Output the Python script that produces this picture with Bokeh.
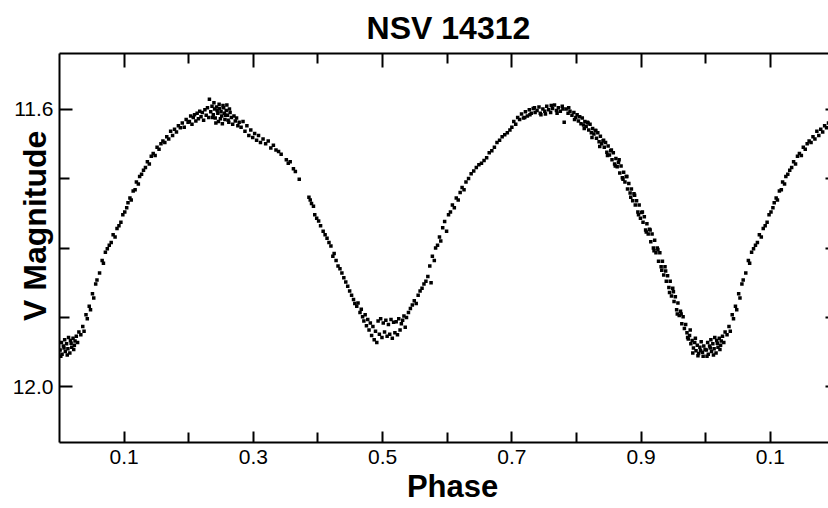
from bokeh.plotting import figure
from bokeh.models import Range1d, FixedTicker, LinearAxis, CustomJSTickFormatter
from bokeh.embed import file_html
from bokeh.resources import INLINE

phase_a = [0.001, 0.003, 0.004, 0.006, 0.008, 0.009, 0.011, 0.013, 0.014, 0.016,
           0.018, 0.019, 0.021, 0.023, 0.024, 0.026, 0.028, 0.030,
           0.002, 0.007, 0.012, 0.017, 0.022]
vmag_a = [11.947, 11.936, 11.953, 11.941, 11.932, 11.949, 11.938, 11.945, 11.929, 11.951,
          11.937, 11.943, 11.930, 11.940, 11.934, 11.927, 11.936, 11.921,
          11.956, 11.944, 11.954, 11.933, 11.946]

phase_b = [0.033, 0.036, 0.038, 0.041, 0.043, 0.046, 0.048, 0.051, 0.053, 0.056,
           0.058, 0.062, 0.066, 0.068, 0.071, 0.074, 0.077, 0.080, 0.083, 0.086,
           0.089, 0.092, 0.095, 0.098]
vmag_b = [11.925, 11.913, 11.920, 11.896, 11.902, 11.884, 11.889, 11.866, 11.872, 11.852,
          11.846, 11.836, 11.818, 11.822, 11.806, 11.801, 11.796, 11.792, 11.781, 11.784,
          11.772, 11.768, 11.763, 11.752]

phase_c = [0.101, 0.104, 0.106, 0.109, 0.111, 0.114, 0.117, 0.119, 0.122, 0.124,
           0.127, 0.130, 0.133, 0.136, 0.139, 0.142, 0.145, 0.148, 0.151, 0.154,
           0.157, 0.160, 0.163, 0.166, 0.169, 0.172, 0.175, 0.178, 0.181, 0.184,
           0.187, 0.190, 0.193, 0.196, 0.199]
vmag_c = [11.748, 11.742, 11.735, 11.728, 11.731, 11.718, 11.716, 11.705, 11.708, 11.697,
          11.694, 11.688, 11.684, 11.676, 11.679, 11.668, 11.664, 11.667, 11.655, 11.658,
          11.650, 11.646, 11.648, 11.640, 11.643, 11.632, 11.638, 11.629, 11.633, 11.624,
          11.627, 11.620, 11.626, 11.615, 11.619]

phase_d = [0.201, 0.203, 0.205, 0.207, 0.209, 0.211, 0.213, 0.215, 0.217, 0.219,
           0.221, 0.223, 0.225, 0.227, 0.229, 0.231, 0.232, 0.234, 0.236, 0.238,
           0.240, 0.241, 0.243, 0.245, 0.246, 0.248, 0.250, 0.251, 0.253, 0.255,
           0.256, 0.258, 0.260, 0.262, 0.264, 0.266, 0.268, 0.270, 0.272, 0.274,
           0.276, 0.278,
           0.237, 0.239, 0.242, 0.244, 0.247, 0.249, 0.252, 0.254, 0.257, 0.259,
           0.261, 0.263]
vmag_d = [11.618, 11.610, 11.622, 11.612, 11.608, 11.617, 11.606, 11.614, 11.603, 11.611,
          11.605, 11.616, 11.601, 11.609, 11.598, 11.612, 11.586, 11.604, 11.596, 11.608,
          11.600, 11.613, 11.597, 11.606, 11.618, 11.599, 11.604, 11.610, 11.595, 11.606,
          11.615, 11.602, 11.609, 11.619, 11.605, 11.612, 11.622, 11.610, 11.617, 11.613,
          11.624, 11.619,
          11.612, 11.591, 11.620, 11.602, 11.593, 11.614, 11.621, 11.598, 11.609, 11.594,
          11.616, 11.600]

phase_e = [0.281, 0.284, 0.287, 0.290, 0.293, 0.296, 0.299, 0.302, 0.305, 0.308,
           0.311, 0.315, 0.319, 0.323, 0.327, 0.331, 0.335, 0.339, 0.343]
vmag_e = [11.626, 11.618, 11.632, 11.624, 11.638, 11.630, 11.641, 11.635, 11.645, 11.638,
          11.648, 11.643, 11.650, 11.646, 11.656, 11.652, 11.659, 11.661, 11.665]

phase_f = [0.351, 0.354, 0.357, 0.362, 0.365, 0.371, 0.386, 0.388, 0.390, 0.393,
           0.395, 0.398, 0.401, 0.404, 0.408, 0.411, 0.414, 0.417, 0.420, 0.423,
           0.425, 0.428, 0.431, 0.434, 0.437, 0.440, 0.443, 0.446, 0.449]
vmag_f = [11.673, 11.678, 11.676, 11.686, 11.690, 11.701, 11.727, 11.731, 11.736, 11.740,
          11.752, 11.757, 11.761, 11.768, 11.776, 11.781, 11.786, 11.792, 11.797, 11.812,
          11.808, 11.818, 11.826, 11.830, 11.836, 11.843, 11.849, 11.855, 11.862]

phase_g = [0.452, 0.455, 0.457, 0.460, 0.462, 0.465, 0.467, 0.469, 0.471, 0.473,
           0.475, 0.477, 0.479, 0.481, 0.483, 0.485, 0.487, 0.489, 0.491, 0.493,
           0.495, 0.497, 0.499, 0.501, 0.503, 0.505, 0.507, 0.509, 0.511, 0.513,
           0.515, 0.517, 0.519, 0.521, 0.523, 0.525, 0.527, 0.529, 0.531, 0.533,
           0.535, 0.537, 0.540, 0.543, 0.546, 0.549, 0.552, 0.555, 0.558]
vmag_g = [11.868, 11.874, 11.880, 11.884, 11.879, 11.893, 11.888, 11.899, 11.905, 11.896,
          11.912, 11.903, 11.918, 11.908, 11.926, 11.913, 11.932, 11.920, 11.936, 11.905,
          11.924, 11.902, 11.929, 11.908, 11.921, 11.904, 11.927, 11.910, 11.924, 11.903,
          11.930, 11.907, 11.922, 11.906, 11.925, 11.902, 11.918, 11.909, 11.904, 11.898,
          11.914, 11.900, 11.893, 11.887, 11.882, 11.876, 11.880, 11.868, 11.862]

phase_h = [0.561, 0.564, 0.567, 0.570, 0.573, 0.575, 0.577, 0.580, 0.582, 0.585,
           0.588, 0.590, 0.593, 0.596, 0.599, 0.602, 0.605, 0.608, 0.611, 0.614,
           0.617, 0.620, 0.623, 0.626, 0.629, 0.633, 0.637, 0.641, 0.645, 0.649,
           0.653, 0.657, 0.661, 0.665, 0.669, 0.673, 0.677, 0.681, 0.685, 0.689,
           0.693, 0.697]
vmag_h = [11.858, 11.852, 11.848, 11.841, 11.826, 11.850, 11.812, 11.818, 11.800, 11.796,
          11.784, 11.790, 11.771, 11.762, 11.776, 11.752, 11.748, 11.738, 11.742, 11.728,
          11.731, 11.720, 11.713, 11.716, 11.705, 11.700, 11.693, 11.689, 11.684, 11.680,
          11.678, 11.674, 11.670, 11.663, 11.660, 11.655, 11.648, 11.645, 11.640, 11.637,
          11.634, 11.630]

phase_i = [0.700, 0.703, 0.706, 0.709, 0.712, 0.715, 0.718, 0.721, 0.724, 0.727,
           0.730, 0.733, 0.736, 0.739, 0.742, 0.745, 0.748, 0.751, 0.754, 0.757,
           0.760, 0.763, 0.766, 0.769, 0.772, 0.775, 0.778, 0.781, 0.784, 0.787,
           0.790, 0.793, 0.796, 0.799,
           0.720, 0.728, 0.735, 0.744, 0.752, 0.761, 0.770, 0.779, 0.788, 0.797]
vmag_i = [11.626, 11.618, 11.622, 11.612, 11.615, 11.607, 11.613, 11.604, 11.610, 11.601,
          11.606, 11.599, 11.605, 11.602, 11.597, 11.608, 11.600, 11.603, 11.596, 11.601,
          11.605, 11.599, 11.594, 11.602, 11.598, 11.603, 11.596, 11.619, 11.600, 11.606,
          11.603, 11.609, 11.605, 11.612,
          11.612, 11.608, 11.598, 11.606, 11.607, 11.595, 11.606, 11.600, 11.598, 11.615]

phase_j = [0.801, 0.803, 0.805, 0.807, 0.809, 0.811, 0.813, 0.815, 0.817, 0.819,
           0.821, 0.823, 0.825, 0.827, 0.829, 0.831, 0.833, 0.835, 0.837, 0.839,
           0.841, 0.843, 0.845, 0.847, 0.849, 0.851, 0.853, 0.855, 0.857, 0.859,
           0.861, 0.863, 0.865, 0.867, 0.869, 0.871, 0.873, 0.875, 0.877, 0.879,
           0.881, 0.883, 0.885, 0.887, 0.889, 0.891, 0.893, 0.895, 0.897, 0.899,
           0.901, 0.903, 0.905, 0.907, 0.909, 0.911, 0.913, 0.915, 0.917, 0.919,
           0.921, 0.923, 0.925, 0.927, 0.929, 0.931, 0.933, 0.935, 0.937, 0.939,
           0.941, 0.943, 0.945, 0.947, 0.949, 0.951, 0.953, 0.955, 0.957, 0.959,
           0.961, 0.963, 0.965, 0.967, 0.969,
           0.812, 0.818, 0.824, 0.830, 0.836, 0.842, 0.848, 0.854, 0.860, 0.866,
           0.872, 0.878, 0.884, 0.890, 0.896, 0.902, 0.908, 0.914, 0.920, 0.926,
           0.932, 0.938, 0.944, 0.950, 0.956, 0.962]
vmag_j = [11.608, 11.617, 11.611, 11.621, 11.613, 11.623, 11.618, 11.625, 11.619, 11.630,
          11.622, 11.634, 11.628, 11.636, 11.631, 11.642, 11.634, 11.647, 11.639, 11.650,
          11.646, 11.655, 11.648, 11.662, 11.653, 11.666, 11.660, 11.673, 11.663, 11.679,
          11.671, 11.683, 11.677, 11.692, 11.682, 11.699, 11.691, 11.705, 11.697, 11.715,
          11.707, 11.721, 11.715, 11.732, 11.722, 11.738, 11.732, 11.748, 11.738, 11.757,
          11.749, 11.763, 11.755, 11.774, 11.765, 11.780, 11.773, 11.791, 11.780, 11.800,
          11.789, 11.807, 11.800, 11.819, 11.807, 11.827, 11.819, 11.839, 11.827, 11.848,
          11.840, 11.857, 11.848, 11.869, 11.858, 11.877, 11.870, 11.889, 11.879, 11.897,
          11.891, 11.909, 11.899, 11.916, 11.910,
          11.628, 11.620, 11.641, 11.631, 11.654, 11.645, 11.667, 11.659, 11.682, 11.673,
          11.701, 11.697, 11.727, 11.724, 11.752, 11.748, 11.777, 11.774, 11.804, 11.802,
          11.832, 11.833, 11.864, 11.863, 11.895, 11.895]

phase_k = [0.971, 0.973, 0.975, 0.977, 0.979, 0.981, 0.983, 0.985, 0.987, 0.989,
           0.991, 0.993, 0.995, 0.997, 0.999,
           0.972, 0.976, 0.980, 0.984, 0.988, 0.992, 0.996]
vmag_k = [11.922, 11.931, 11.926, 11.938, 11.933, 11.944, 11.936, 11.948, 11.940, 11.952,
          11.943, 11.935, 11.950, 11.941, 11.946,
          11.929, 11.918, 11.951, 11.930, 11.955, 11.948, 11.956]

x_major_ticks = [0.1, 0.3, 0.5, 0.7, 0.9, 1.1]
x_minor_ticks = [0.2, 0.4, 0.6, 0.8, 1.0]
y_major_ticks = [11.6, 12.0]
y_minor_ticks = [11.7, 11.8, 11.9]

phase = (phase_a + phase_b + phase_c + phase_d + phase_e + phase_f +
         phase_g + phase_h + phase_i + phase_j + phase_k)
vmag = (vmag_a + vmag_b + vmag_c + vmag_d + vmag_e + vmag_f +
        vmag_g + vmag_h + vmag_i + vmag_j + vmag_k)

# the folded light curve is shown over more than one cycle
xs = list(phase) + [ph + 1.0 for ph in phase if ph < 0.2]
ys = list(vmag) + [m for ph, m in zip(phase, vmag) if ph < 0.2]

FONT = "Liberation Sans"
NB = "\u00a0"

p = figure(width=828, height=508,
           x_range=Range1d(0.0, 1.19), y_range=Range1d(12.08, 11.52),
           output_backend="svg", toolbar_location=None,
           min_border_left=59, min_border_right=0, min_border_top=52, min_border_bottom=66,
           background_fill_color="white", border_fill_color="white")
p.outline_line_color = None
p.xgrid.visible = False
p.ygrid.visible = False

p.scatter(xs, ys, marker="square", size=3.5, fill_color="black", line_color=None)

# title
p.title.text = NB + "NSV 14312"
p.title.align = "center"
p.title.text_font = FONT
p.title.text_font_size = "32px"
p.title.text_font_style = "bold"
p.title.text_color = "black"
p.title.standoff = 15

xfmt = CustomJSTickFormatter(code="return (tick > 1.05 ? tick - 1 : tick).toFixed(1);")
yfmt = CustomJSTickFormatter(code="return tick.toFixed(1);")
blank = CustomJSTickFormatter(code="return '';")

def style(ax, tin, tmin):
    ax.axis_line_width = 2
    ax.axis_line_color = "black"
    ax.major_tick_line_width = 2
    ax.minor_tick_line_width = 2
    ax.major_tick_line_color = "black"
    ax.minor_tick_line_color = "black"
    ax.major_tick_in = tin
    ax.major_tick_out = 0
    ax.minor_tick_in = tmin
    ax.minor_tick_out = 0
    ax.major_label_text_font = FONT
    ax.major_label_text_font_size = "21px"
    ax.major_label_text_color = "black"
    ax.axis_label_text_font = FONT
    ax.axis_label_text_font_size = "32px"
    ax.axis_label_text_font_style = "bold"
    ax.axis_label_text_color = "black"

# bottom axis
xa = p.xaxis[0]
xa.ticker = FixedTicker(ticks=x_major_ticks, minor_ticks=x_minor_ticks)
xa.formatter = xfmt
style(xa, 11, 10)
xa.axis_label_text_font_size = "31px"
xa.major_label_standoff = 7
xa.axis_label = NB * 2 + "Phase"
xa.axis_label_standoff = 2

# left axis
ya = p.yaxis[0]
ya.ticker = FixedTicker(ticks=y_major_ticks, minor_ticks=y_minor_ticks)
ya.formatter = yfmt
style(ya, 13, 10)
ya.major_label_standoff = 6
ya.axis_label = NB * 5 + "V Magnitude"
ya.axis_label_standoff = -43

# top axis (ticks only)
ta = LinearAxis(ticker=FixedTicker(ticks=x_major_ticks, minor_ticks=x_minor_ticks),
                formatter=blank)
style(ta, 14, 10)
ta.major_label_text_font_size = "0px"
ta.major_label_standoff = 0
p.add_layout(ta, "above")

# right axis (ticks only, line outside the picture)
ra = LinearAxis(ticker=FixedTicker(ticks=y_major_ticks, minor_ticks=y_minor_ticks),
                formatter=blank)
style(ra, 3, 3)
ra.axis_line_color = None
ra.major_label_text_font_size = "0px"
ra.major_label_standoff = 0
p.add_layout(ra, "right")

open("out.html", "w").write(file_html(p, INLINE))
